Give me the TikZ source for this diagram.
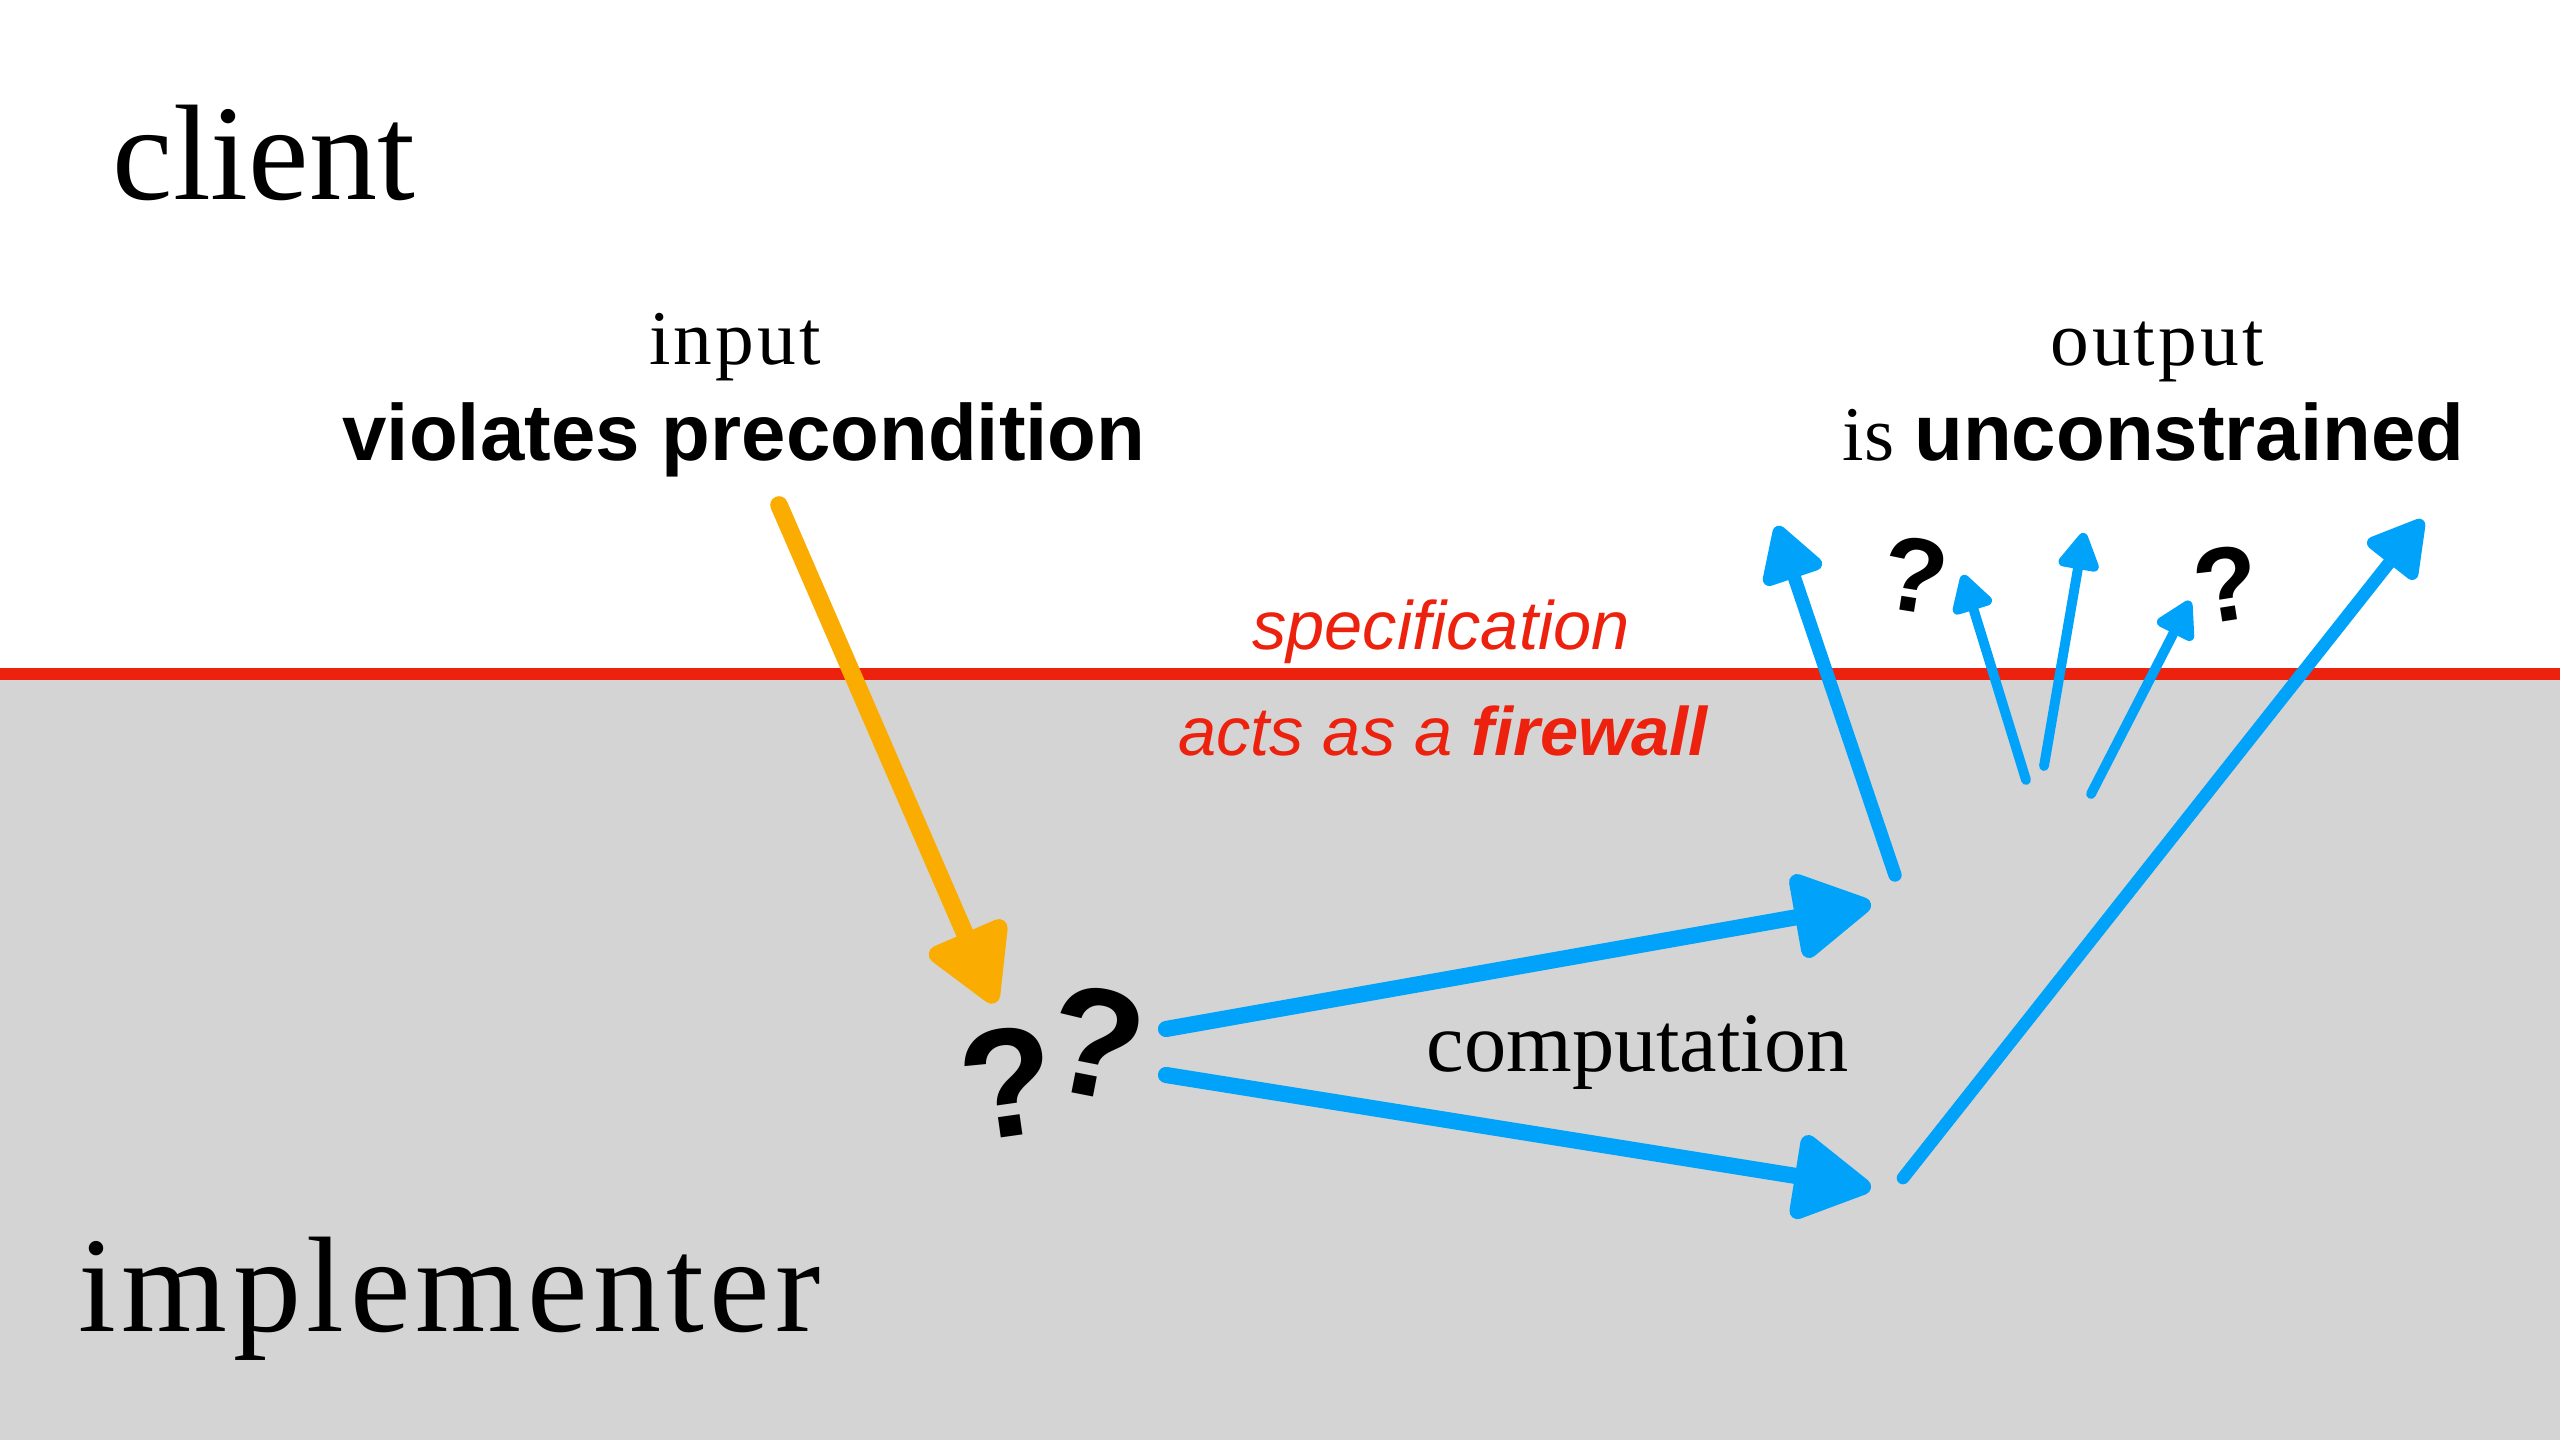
\documentclass[tikz,border=0pt]{standalone}
\usepackage{fontspec}
\setmainfont{Liberation Serif}
\setsansfont{Liberation Sans}
\newfontfamily\widefont[LetterSpace=4]{Liberation Serif}
\usetikzlibrary{arrows.meta}

\definecolor{specred}{RGB}{236,34,14}
\definecolor{wallgray}{RGB}{212,212,212}
\definecolor{outblue}{RGB}{0,162,250}
\definecolor{inorange}{RGB}{250,172,0}

\tikzset{
  bighead/.style={-{Triangle[length=0.86cm,width=0.92cm,round]}},
  midhead/.style={-{Triangle[length=0.62cm,width=0.68cm,round]}},
  smallhead/.style={-{Triangle[length=0.42cm,width=0.45cm,round]}},
  brush/.style={line cap=round,line width=#1},
  txt/.style={inner sep=0pt,font=\widefont\fontsize{22}{26}\selectfont},
  bold/.style={inner sep=0pt,font=\sffamily\bfseries\fontsize{22.7}{26}\selectfont},
  spec/.style={inner sep=0pt,text=specred,font=\sffamily\itshape\fontsize{19.5}{22}\selectfont},
  side/.style={inner sep=0pt,font=\fontsize{38.7}{42}\selectfont},
  qmark/.style={inner sep=0pt,font=\sffamily\bfseries\fontsize{#1}{#1}\selectfont},
}

\begin{document}
\begin{tikzpicture}[x=0.01cm,y=-0.01cm]
            \useasboundingbox (0,0) rectangle (2560,1440);
            \fill[white] (0,0) rectangle (2560,1440);
            \fill[wallgray] (0,674) rectangle (2560,1440);
            \draw[specred,line width=3.4pt] (0,674) -- (2560,674);

            % labels
            \node[side,anchor=base west] (client) at (112,200) {client};
            \node[side,anchor=base west,font=\widefont\fontsize{38.7}{42}\selectfont] (impl) at (78,1331) {implementer};
            \node[txt,anchor=base] (input) at (735,365) {input};
            \node[bold,anchor=base] (viol) at (744,461) {violates precondition};
            \node[txt,anchor=base] (output) at (2157,366) {output};
            \node[inner sep=0pt,anchor=base west] (unc) at (1842,461)
                {{\fontsize{22}{26}\selectfont is}\hspace{0.57em}{\sffamily\bfseries\fontsize{22.7}{26}\selectfont unconstrained}};
            \node[spec,anchor=base] (spec) at (1441,650) {specification};
            \node[spec,anchor=base] (wall) at (1443,756) {acts as a \textbf{firewall}};
            \node[inner sep=0pt,anchor=base west,font=\fontsize{24}{28}\selectfont] (comp) at (1426,1071) {computation};

            \node[qmark=44,rotate=8] (Q1) at (1008,1082) {?};
            \node[qmark=44,rotate=-11] (Q2) at (1096,1042) {?};
            \node[qmark=30,rotate=-9] (Q3) at (1915,575) {?};
            \node[qmark=30,rotate=9] (Q4) at (2227,584) {?};

            % arrow ends
            \coordinate (A) at (779,505);
            \coordinate (B) at (995,1003);
            \coordinate (C) at (1166,1029);
            \coordinate (D) at (1871,904);
            \coordinate (E) at (1166,1075);
            \coordinate (F) at (1871,1188);
            \coordinate (G) at (1895,875);
            \coordinate (H) at (1777,526);
            \coordinate (I) at (2026,780);
            \coordinate (J) at (1963,575);
            \coordinate (K) at (2044,766);
            \coordinate (L) at (2084,533);
            \coordinate (M) at (2091,794);
            \coordinate (N) at (2190,601);
            \coordinate (O) at (1903,1178);
            \coordinate (P) at (2423,520);

            \draw[inorange,brush=5pt,bighead] (A) -- (B);
            \draw[outblue,brush=4.6pt,bighead] (C) -- (D);
            \draw[outblue,brush=4.6pt,bighead] (E) -- (F);
            \draw[outblue,brush=3.8pt,midhead] (G) -- (H);
            \draw[outblue,brush=2.8pt,smallhead] (I) -- (J);
            \draw[outblue,brush=2.8pt,smallhead] (K) -- (L);
            \draw[outblue,brush=2.8pt,smallhead] (M) -- (N);
            \draw[outblue,brush=3.6pt,midhead] (O) -- (P);
        \end{tikzpicture}
\end{document}
